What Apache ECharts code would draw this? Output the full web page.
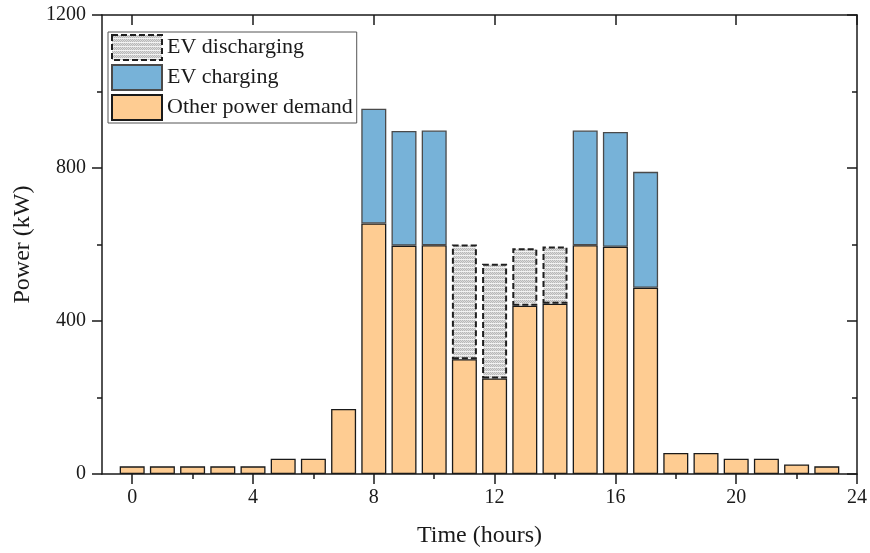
<!DOCTYPE html>
<html>
<head>
<meta charset="utf-8">
<script src="https://cdn.jsdelivr.net/npm/echarts@6/dist/echarts.min.js"></script>
<style>html,body{margin:0;padding:0;background:#fff;}#c{width:870px;height:553px;}</style>
</head>
<body>
<div id="c"></div>
<script>
const hours = [0,1,2,3,4,5,6,7,8,9,10,11,12,13,14,15,16,17,18,19,20,21,22,23];
const otherDemand = [20,20,20,20,20,40,40,170,655,597,598,300,250,440,445,598,594,487,55,55,40,40,25,20];
const evDischarging = [null,null,null,null,null,null,null,null,null,null,null,300,300,150,150,null,null,null,null,null,null,null,null,null];
const evCharging = [null,null,null,null,null,null,null,null,300,300,300,null,null,null,null,300,300,303,null,null,null,null,null,null];
const xMajorTicks = [0,4,8,12,16,20,24];
const xMinorTicks = [2,6,10,14,18,22];
const seriesNames = ['Other power demand','EV discharging','EV charging'];

// [value, hour] so the value dimension is the one that gets stacked
const pairs = vals => hours.map((h,i) => [vals[i] == null ? '-' : vals[i], h]);

// hatched texture for discharging
const pc = document.createElement('canvas');
pc.width = 4; pc.height = 4;
const g = pc.getContext('2d');
g.fillStyle = '#dcdcdc'; g.fillRect(0,0,4,4);
g.fillStyle = '#b8b8b8';
g.fillRect(0,0,1,1); g.fillRect(2,0,1,1); g.fillRect(1,1,1,1); g.fillRect(3,1,1,1);
g.fillRect(0,2,1,1); g.fillRect(2,2,1,1);
g.fillStyle = '#f2f2f2'; g.fillRect(0,3,4,1);

const font = 'Liberation Serif';
const axisCol = '#1a1a1a';
const lineStyle = {color: axisCol, width: 1.5};
const dischargeStyle = {color:{image:pc, repeat:'repeat'}, borderColor:'#1f1f1f', borderWidth:2, borderType:[6,3]};

const xBase = {type:'value', min:-1, max:24, gridIndex:0, splitLine:{show:false}};
const chart = echarts.init(document.getElementById('c'), null, {renderer:'canvas'});
chart.setOption({
  animation:false,
  backgroundColor:'#fff',
  grid:{left:102, right:12, top:15, bottom:79},
  legend:{
    orient:'vertical', left:108, top:32,
    data:[
      {name:'EV discharging', itemStyle:{borderType:[6,3], borderWidth:2, borderColor:'#1f1f1f'}},
      'EV charging',
      'Other power demand'
    ],
    icon:'rect',
    itemWidth:50, itemHeight:25, itemGap:3,
    padding:[2,4,2,3],
    borderColor:'#555', borderWidth:1,
    textStyle:{fontFamily:font, fontSize:22, color:axisCol}
  },
  xAxis:[
    Object.assign({}, xBase, {position:'bottom',
      axisLine:{show:true, onZero:false, lineStyle},
      axisTick:{show:true, length:10, customValues:xMajorTicks, lineStyle},
      axisLabel:{show:true, customValues:xMajorTicks, margin:14, fontFamily:font, fontSize:20, color:axisCol},
      name:'Time (hours)', nameLocation:'middle', nameGap:50,
      nameTextStyle:{fontFamily:font, fontSize:24, color:axisCol}}),
    Object.assign({}, xBase, {position:'bottom',
      axisLine:{show:false},
      axisTick:{show:true, length:5, customValues:xMinorTicks, lineStyle},
      axisLabel:{show:false}}),
    Object.assign({}, xBase, {position:'top',
      axisLine:{show:true, onZero:false, lineStyle},
      axisTick:{show:true, inside:true, length:10, customValues:xMajorTicks, lineStyle},
      axisLabel:{show:false}}),
    Object.assign({}, xBase, {position:'top',
      axisLine:{show:false},
      axisTick:{show:true, inside:true, length:5, customValues:xMinorTicks, lineStyle},
      axisLabel:{show:false}})
  ],
  yAxis:[
    {type:'value', min:0, max:1200, interval:400, position:'left',
      axisLine:{show:true, onZero:false, lineStyle},
      axisTick:{show:true, length:10, lineStyle},
      minorTick:{show:true, splitNumber:2, length:5, lineStyle},
      splitLine:{show:false},
      axisLabel:{margin:16, fontFamily:font, fontSize:20, color:axisCol, formatter:v => String(v)},
      name:'Power (kW)', nameLocation:'middle', nameGap:66,
      nameTextStyle:{fontFamily:font, fontSize:24, color:axisCol}},
    {type:'value', min:0, max:1200, interval:400, position:'right',
      axisLine:{show:true, onZero:false, lineStyle},
      axisTick:{show:true, inside:true, length:10, lineStyle},
      minorTick:{show:true, splitNumber:2, length:5, lineStyle},
      splitLine:{show:false},
      axisLabel:{show:false}}
  ],
  series:[
    {name:seriesNames[0], type:'bar', stack:'p', barWidth:25, data:pairs(otherDemand), encode:{x:1, y:0},
      itemStyle:{color:'#FECC92', borderColor:'#1a1a1a', borderWidth:1.3}},
    {name:seriesNames[1], type:'bar', stack:'p', barWidth:25, data:pairs(evDischarging), encode:{x:1, y:0},
      itemStyle:dischargeStyle},
    {name:seriesNames[2], type:'bar', stack:'p', barWidth:25, data:pairs(evCharging), encode:{x:1, y:0},
      itemStyle:{color:'#77B2D8', borderColor:'#4a4a4a', borderWidth:1.3}}
  ]
});
</script>
</body>
</html>
